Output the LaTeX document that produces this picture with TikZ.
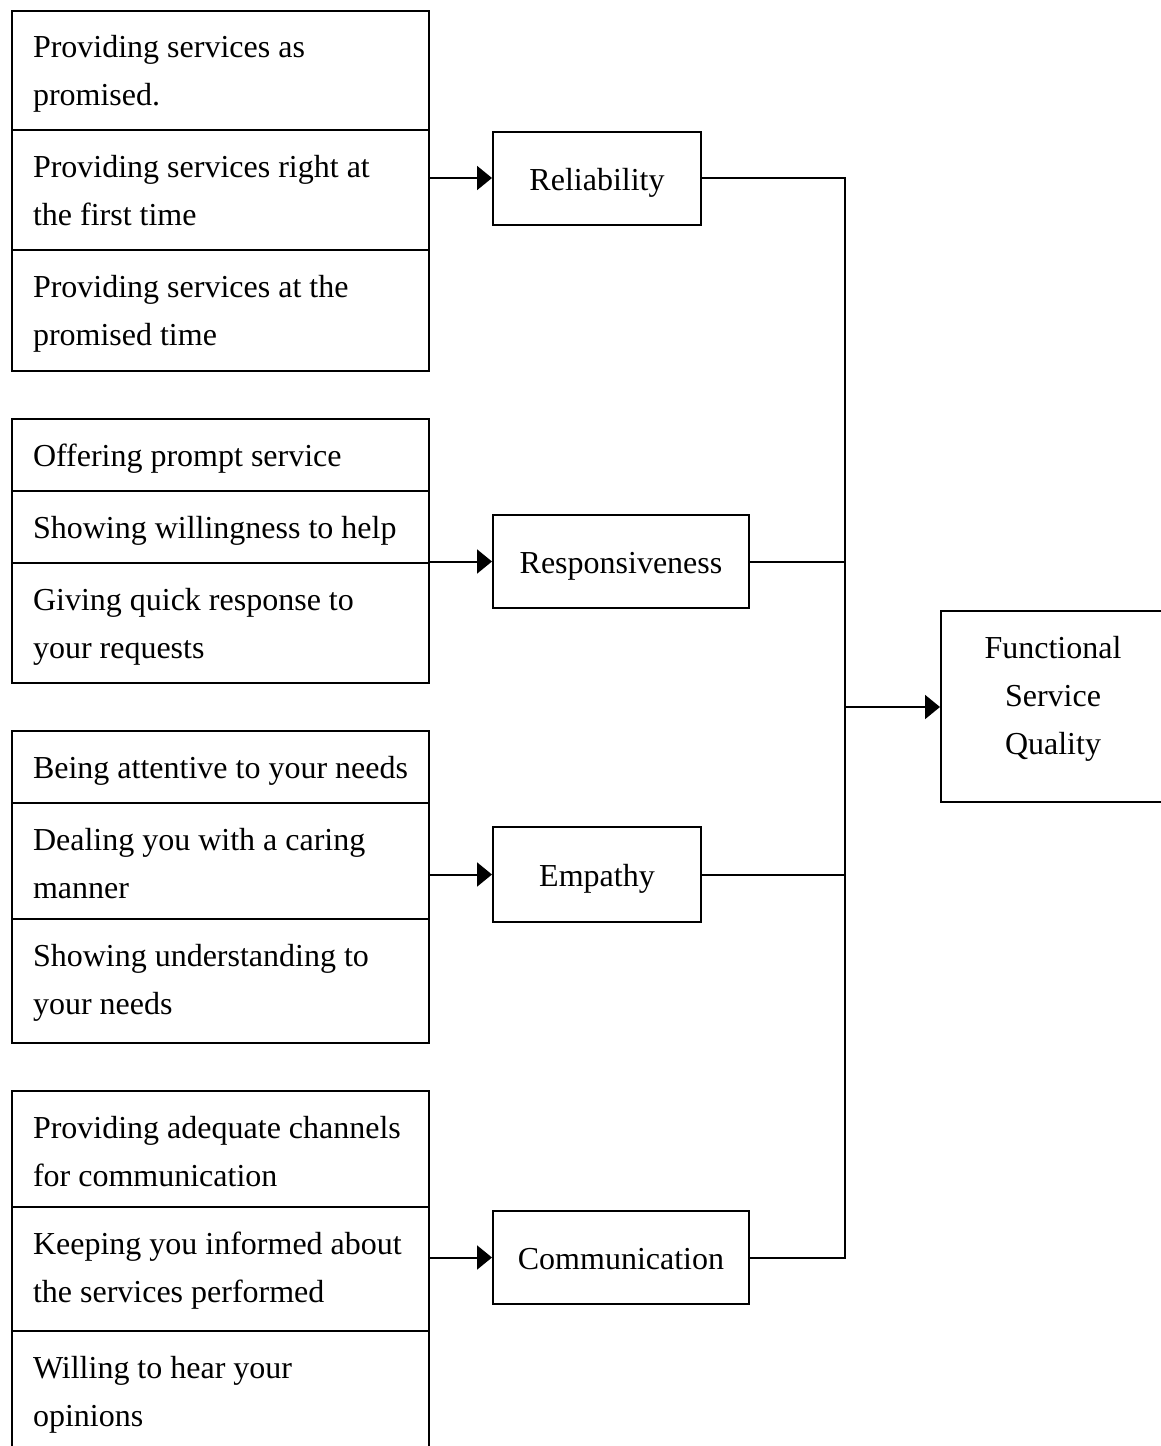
\documentclass[tikz,border=0pt]{standalone}
\usepackage{fontspec}
\setmainfont{Liberation Serif}
\usetikzlibrary{arrows.meta}
% item text: left-aligned lines on a 48pt pitch, set in a fixed-width box;
% the optional argument moves the lines up or down inside the cell
\newcommand\itemtext[2][-1.5pt]{\raisebox{#1}[\height][\depth]{\makebox[375pt][l]{\begin{tabular}[t]{@{}l@{}}#2\end{tabular}}}}
% one-line label of a dimension box
\newcommand\dimtext[1]{\raisebox{-2.5pt}[\height][\depth]{\strut #1}}
\begin{document}
\begin{tikzpicture}[x=1pt,y=-1pt,line width=2pt,
  every node/.style={font=\fontsize{32}{48}\selectfont},
  cell/.style={draw,minimum width=417pt,inner xsep=21pt,inner ysep=0pt,anchor=center},
  dimbox/.style={draw,minimum height=93pt,inner sep=0pt},
  arr/.style={-{Triangle[length=15pt,width=24pt]}}]
\clip (0,0) rectangle (1161,1446);
% Reliability items
\node[cell,minimum height=119pt] (a1) at (220.5,70.5) {\itemtext{Providing services as\\promised.}};
\node[cell,minimum height=120pt] (a2) at (220.5,190) {\itemtext{Providing services right at\\the first time}};
\node[cell,minimum height=121pt] (a3) at (220.5,310.5) {\itemtext{Providing services at the\\promised time}};
% Responsiveness items
\node[cell,minimum height=72pt] (b1) at (220.5,455) {\itemtext{Offering prompt service}};
\node[cell,minimum height=72pt] (b2) at (220.5,527) {\itemtext{Showing willingness to help}};
\node[cell,minimum height=120pt] (b3) at (220.5,623) {\itemtext{Giving quick response to\\your requests}};
% Empathy items
\node[cell,minimum height=72pt] (c1) at (220.5,767) {\itemtext{Being attentive to your needs}};
\node[cell,minimum height=116pt] (c2) at (220.5,861) {\itemtext[-3.5pt]{Dealing you with a caring\\manner}};
\node[cell,minimum height=124pt] (c3) at (220.5,981) {\itemtext[0.5pt]{Showing understanding to\\your needs}};
% Communication items
\node[cell,minimum height=116pt] (d1) at (220.5,1149) {\itemtext[-3.5pt]{Providing adequate channels\\for communication}};
\node[cell,minimum height=124pt] (d2) at (220.5,1269) {\itemtext[0.5pt]{Keeping you informed about\\the services performed}};
\node[cell,minimum height=120pt] (d3) at (220.5,1391) {\itemtext{Willing to hear your\\opinions}};
% Dimensions
\node[dimbox,minimum width=208pt] (rel) at (597,178) {\dimtext{Reliability}};
\node[dimbox,minimum width=256pt] (res) at (621,561.5) {\dimtext{Responsiveness}};
\node[dimbox,minimum width=208pt,minimum height=95pt] (emp) at (597,874.5) {\dimtext{Empathy}};
\node[dimbox,minimum width=256pt] (com) at (621,1257.5) {\dimtext{Communication}};
% Outcome
\node[draw,minimum width=224pt,minimum height=191pt,inner sep=0pt] (fsq) at (1053,706) {\raisebox{9pt}[\height][\depth]{\begin{tabular}{@{}c@{}}Functional\\Service\\Quality\end{tabular}}};
% Item groups to dimensions
\draw[arr] (rel.west -| a2.east) -- (rel.west);
\draw[arr] (res.west -| b3.east) -- (res.west);
\draw[arr] (emp.west -| c2.east) -- (emp.west);
\draw[arr] (com.west -| d2.east) -- (com.west);
% Dimensions to outcome
\coordinate (j) at (845,707);
\draw (rel.east) -| (j);
\draw (com.east) -| (j);
\draw (res.east) -- (res.east -| j);
\draw (emp.east) -- (emp.east -| j);
\draw[arr] (j) -- (fsq.west |- j);
\end{tikzpicture}
\end{document}
